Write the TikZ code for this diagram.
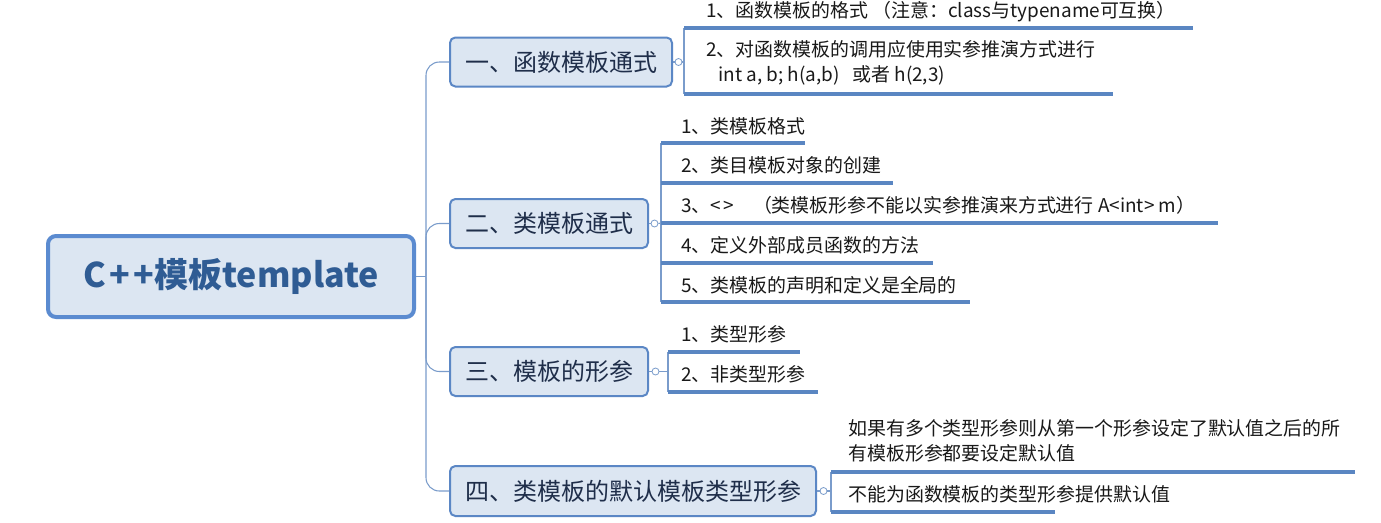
\documentclass[tikz,border=0pt]{standalone}
\usepackage{fontspec}
\setmainfont{Noto Sans CJK SC}
\definecolor{boxfill}{HTML}{DCE6F2}
\definecolor{boxline}{HTML}{5B87C5}
\definecolor{rootline}{HTML}{5B8BD0}
\definecolor{roottext}{HTML}{2F5C94}
\definecolor{brtext}{HTML}{1F2E4A}
\definecolor{conn}{HTML}{7A9CCB}
\definecolor{uline}{HTML}{5A86C2}
\tikzset{
  rootbox/.style={draw=rootline,fill=boxfill,line width=3pt,rounded corners=6pt,
    minimum width=366*0.75pt,minimum height=81*0.75pt,inner sep=0pt,
    font=\fontsize{25.5pt}{29pt}\selectfont\bfseries,text=roottext},
  brbox/.style={draw=boxline,fill=boxfill,line width=1.5pt,rounded corners=4pt,
    minimum height=49*0.75pt,inner sep=0pt,
    font=\fontsize{18pt}{22pt}\selectfont,text=brtext},
  leaf/.style={anchor=west,inner sep=0pt,align=left,
    font=\fontsize{14.2pt}{19pt}\selectfont,text=black!90},
  connl/.style={draw=conn,line width=0.8pt},
  ul/.style={draw=uline,line width=2.4pt},
  knob/.style={circle,draw=conn,fill=white,line width=0.6pt,minimum size=7*0.75pt,inner sep=0pt}
}
\begin{document}
\begin{tikzpicture}[x=0.75pt,y=-0.75pt]
\useasboundingbox[fill=white] (0,0) rectangle (1381,522);
% root
\node[rootbox] (root) at (231,276.5) {C{\kern2.5pt}+{\kern3pt}+模板template};
\coordinate (trunk) at (426,276.5);
% branches
\node[brbox,minimum width=222*0.75pt] (b1) at (561,62) {一、函数模板通式};
\node[brbox,minimum width=198*0.75pt] (b2) at (549,223.5) {二、类模板通式};
\node[brbox,minimum width=198*0.75pt] (b3) at (549,371.5) {三、模板的形参};
\node[brbox,minimum width=366*0.75pt,minimum height=50*0.75pt] (b4) at (633,491) {四、类模板的默认模板类型形参};
\draw[connl] (root.east) -- (trunk);
\draw[connl,rounded corners=10pt] (trunk) |- (b1.west);
\draw[connl,rounded corners=10pt] (trunk) |- (b2.west);
\draw[connl,rounded corners=10pt] (trunk) |- (b3.west);
\draw[connl,rounded corners=10pt] (trunk) |- (b4.west);
% knobs
\node[knob] (k1) at (678.5,62) {};
\node[knob] (k2) at (654.5,223.5) {};
\node[knob] (k3) at (655.5,371.5) {};
\node[knob] (k4) at (823.5,491) {};
\draw[connl] (b1.east) -- (k1.west);
\draw[connl] (b2.east) -- (k2.west);
\draw[connl] (b3.east) -- (k3.west);
\draw[connl] (b4.east) -- (k4.west);
% group 1
\coordinate (u11) at (684,28); \coordinate (e11) at (1193,28);
\coordinate (u12) at (684,94); \coordinate (e12) at (1113,94);
\draw[connl] (u11) -- (u12);
\draw[connl] (k1.east) -- (k1.east -| u11);
\draw[ul] (u11) -- (e11);
\draw[ul] (u12) -- (e12);
\node[leaf] (l11) at (706,12) {1、函数模板的格式 （注意：class与typename可互换）};
\node[leaf] (l12) at (706,63) {2、对函数模板的调用应使用实参推演方式进行\\\hspace*{9pt}int a, b; h(a,b)\ \ \ 或者 h(2,3)};
% group 2
\coordinate (u21) at (661,143); \coordinate (e21) at (805,143);
\coordinate (u22) at (661,183); \coordinate (e22) at (893,183);
\coordinate (u23) at (661,223); \coordinate (e23) at (1218,223);
\coordinate (u24) at (661,263); \coordinate (e24) at (933,263);
\coordinate (u25) at (661,302); \coordinate (e25) at (970,302);
\draw[connl] (u21) -- (u25);
\draw[connl] (k2.east) -- (u23);
\draw[ul] (u21) -- (e21);
\draw[ul] (u22) -- (e22);
\draw[ul] (u23) -- (e23);
\draw[ul] (u24) -- (e24);
\draw[ul] (u25) -- (e25);
\node[leaf] (l21) at (681,126) {1、类模板格式};
\node[leaf] (l22) at (681,165) {2、类目模板对象的创建};
\node[leaf] (l23) at (681,205) {3、<{\kern2pt}>\hspace{14pt}（类模板形参不能以实参推演来方式进行 A<int> m）};
\node[leaf] (l24) at (681,245) {4、定义外部成员函数的方法};
\node[leaf] (l25) at (681,285) {5、类模板的声明和定义是全局的};
% group 3
\coordinate (u31) at (668,352); \coordinate (e31) at (800,352);
\coordinate (u32) at (668,392); \coordinate (e32) at (818,392);
\draw[connl] (u31) -- (u32);
\draw[connl] (k3.east) -- (k3.east -| u31);
\draw[ul] (u31) -- (e31);
\draw[ul] (u32) -- (e32);
\node[leaf] (l31) at (681,334) {1、类型形参};
\node[leaf] (l32) at (681,374) {2、非类型形参};
% group 4
\coordinate (u41) at (831,472); \coordinate (e41) at (1355,472);
\coordinate (u42) at (831,512); \coordinate (e42) at (1055,512);
\draw[connl] (u41) -- (u42);
\draw[connl] (k4.east) -- (k4.east -| u41);
\draw[ul] (u41) -- (e41);
\draw[ul] (u42) -- (e42);
\node[leaf] (l41) at (848,441) {如果有多个类型形参则从第一个形参设定了默认值之后的所\\有模板形参都要设定默认值};
\node[leaf] (l42) at (848,494) {不能为函数模板的类型形参提供默认值};
\end{tikzpicture}
\end{document}
